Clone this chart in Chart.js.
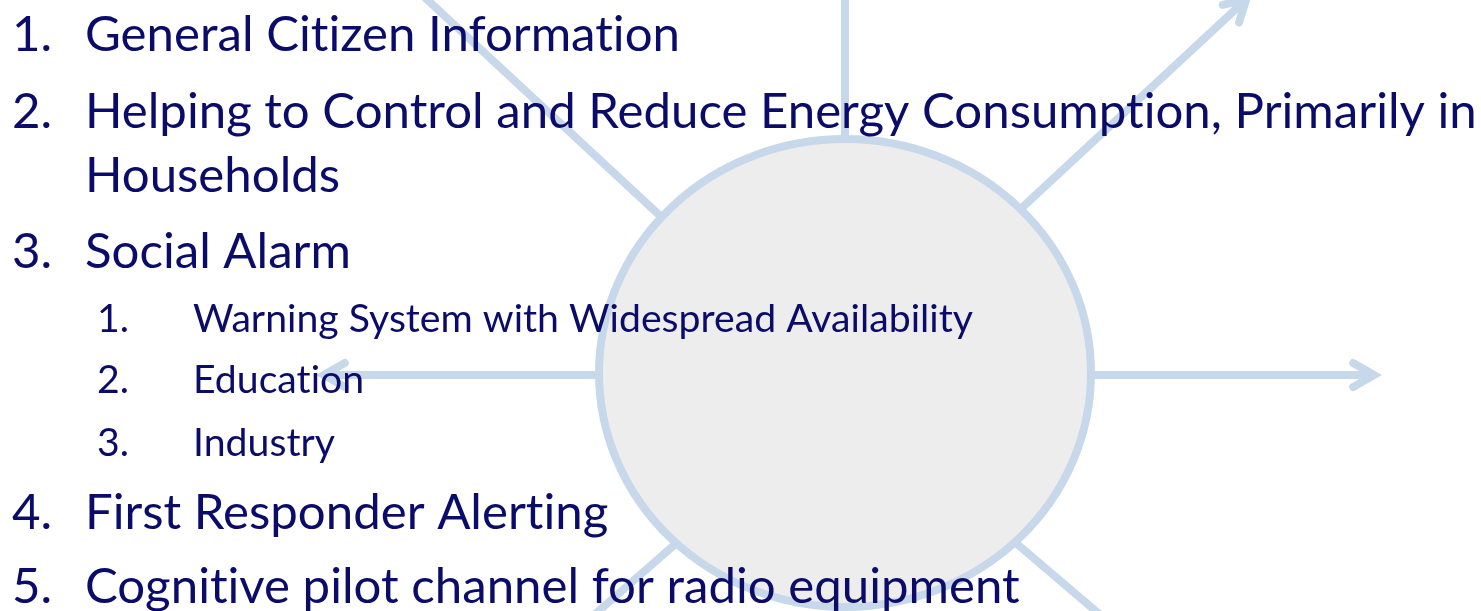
<!DOCTYPE html>
<html><head><meta charset="utf-8">
<script src="https://cdn.jsdelivr.net/npm/chart.js@4/dist/chart.umd.min.js"></script>
<style>html,body{margin:0;padding:0;background:#fff;overflow:hidden}canvas{display:block}</style>
</head><body>
<canvas id="c" width="1481" height="611"></canvas>
<script>
// ---- diagram data (slide units: 1 unit = 1 px of the 1481x611 slide) ----
const hubCenter = [845, 373];
const hubRadii = [246, 234];
// spokes: start point (hidden under the hub) and end point
const spokeStarts = [[845,150],[1012,217],[670,225],[1080,375],[610,375],[680,540],[1010,538]];
const spokeEnds   = [[845,-20],[1252,-6],[406,-20],[1382,375],[316,375],[577,630],[1118,630]];
const spokeArrow  = [false, true, false, true, true, false, false];

const mainNumbers   = ['1.', '2.', '', '3.', '4.', '5.'];
const mainLines     = ['General Citizen Information',
                       'Helping to Control and Reduce Energy Consumption, Primarily in',
                       'Households',
                       'Social Alarm',
                       'First Responder Alerting',
                       'Cognitive pilot channel for radio equipment'];
const mainBaselines = [51, 128, 192, 268, 529, 603];
const subNumbers    = ['1.', '2.', '3.'];
const subLines      = ['Warning System with Widespread Availability', 'Education', 'Industry'];
const subBaselines  = [332, 393, 456];

// ---- styles ----
const LINE_COLOR = '#c8d8eb';
const HUB_FILL = '#ededed';
const TEXT_COLOR = '#0b0b6a';
const LW = 8;
const HEAD_LEN = 24, HEAD_ANG = 30 * Math.PI / 180, MITER_OFF = 8;

const datasets = [];
spokeStarts.forEach((s, i) => {
  const e = spokeEnds[i];
  let end = {x: e[0], y: e[1]};
  if (spokeArrow[i]) {
    const dx = e[0] - s[0], dy = e[1] - s[1];
    const L = Math.hypot(dx, dy), ux = dx / L, uy = dy / L;
    const ax = e[0] - MITER_OFF * ux, ay = e[1] - MITER_OFF * uy;
    end = {x: ax, y: ay};
    const bx = -ux, by = -uy;
    const rot = (a) => ({x: ax + HEAD_LEN * (bx * Math.cos(a) - by * Math.sin(a)),
                         y: ay + HEAD_LEN * (bx * Math.sin(a) + by * Math.cos(a))});
    datasets.push({
      data: [rot(HEAD_ANG), {x: ax, y: ay}, rot(-HEAD_ANG)],
      showLine: true, borderColor: LINE_COLOR, borderWidth: LW,
      borderCapStyle: 'round', borderJoinStyle: 'miter', pointRadius: 0, tension: 0
    });
  }
  datasets.push({
    data: [{x: s[0], y: s[1]}, end],
    showLine: true, borderColor: LINE_COLOR, borderWidth: LW,
    borderCapStyle: 'butt', pointRadius: 0, tension: 0
  });
});

const hubPlugin = {
  id: 'hub',
  afterDatasetsDraw(chart) {
    const {ctx, scales: {x, y}} = chart;
    const cx = x.getPixelForValue(hubCenter[0]), cy = y.getPixelForValue(hubCenter[1]);
    const rx = Math.abs(x.getPixelForValue(hubCenter[0] + hubRadii[0]) - cx);
    const ry = Math.abs(y.getPixelForValue(hubCenter[1] + hubRadii[1]) - cy);
    ctx.save();
    ctx.beginPath();
    ctx.ellipse(cx, cy, rx, ry, 0, 0, Math.PI * 2);
    ctx.fillStyle = HUB_FILL; ctx.fill();
    ctx.lineWidth = LW; ctx.strokeStyle = LINE_COLOR; ctx.stroke();
    ctx.restore();
  }
};

const textPlugin = {
  id: 'listText',
  afterDraw(chart) {
    const {ctx, scales: {x, y}} = chart;
    ctx.save();
    ctx.fillStyle = TEXT_COLOR;
    ctx.textBaseline = 'alphabetic';
    ctx.textAlign = 'left';
    if ('letterSpacing' in ctx) ctx.letterSpacing = '0.01px'; // avoid "ti" ligatures
    const drawStyle = (font, ref, refW, nums, lines, bases, numX, txtX) => {
      ctx.font = font;
      const sx = refW / ctx.measureText(ref).width;
      lines.forEach((t, i) => {
        const by = y.getPixelForValue(bases[i]);
        ctx.save(); ctx.translate(x.getPixelForValue(numX), by); ctx.scale(sx, 1);
        ctx.fillText(nums[i], 0, 0); ctx.restore();
        ctx.save(); ctx.translate(x.getPixelForValue(txtX), by); ctx.scale(sx, 1);
        ctx.fillText(t, 0, 0); ctx.restore();
      });
    };
    drawStyle('47.5px Lato', mainLines[0], 595, mainNumbers, mainLines, mainBaselines, 12, 85);
    drawStyle('38.5px Lato', subLines[0], 780, subNumbers, subLines, subBaselines, 97, 193);
    ctx.restore();
  }
};

new Chart(document.getElementById('c'), {
  type: 'scatter',
  data: {datasets},
  options: {
    responsive: false, animation: false, events: [],
    layout: {padding: 0},
    scales: {
      x: {type: 'linear', min: 0, max: 1481, display: false},
      y: {type: 'linear', min: 0, max: 611, reverse: true, display: false}
    },
    plugins: {legend: {display: false}, tooltip: {enabled: false}, title: {display: false}}
  },
  plugins: [hubPlugin, textPlugin]
});
</script>
</body></html>
